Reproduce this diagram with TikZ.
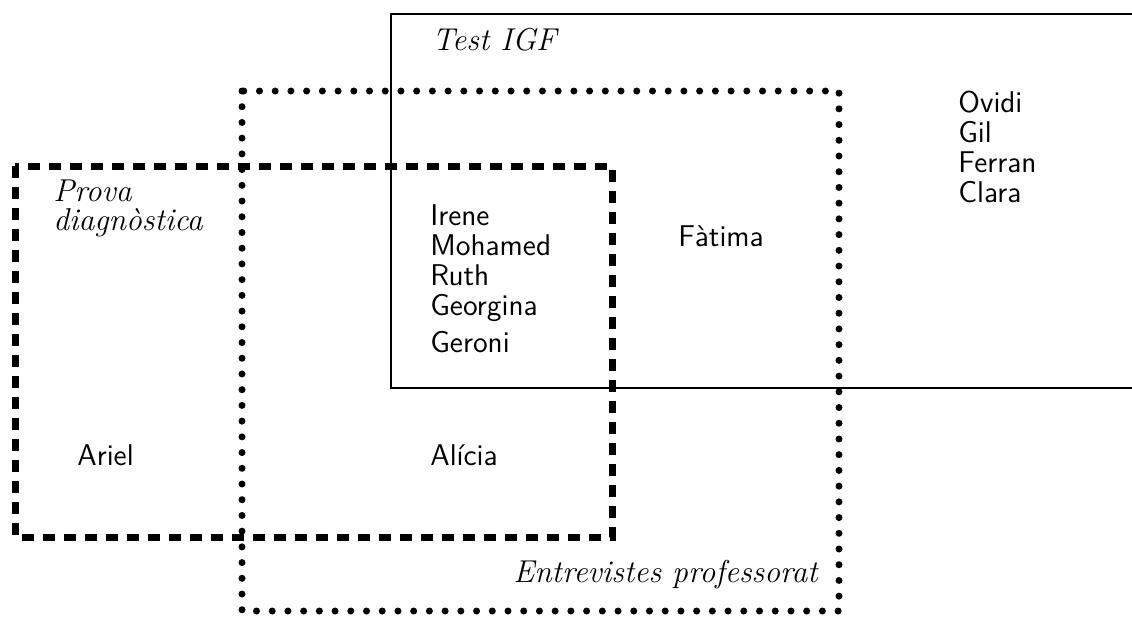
\documentclass[tikz,border=0pt]{standalone}
\usepackage{fontspec}
\begin{document}
\begin{tikzpicture}[x=0.5pt,y=-0.5pt,
  setlabel/.style={font=\fontsize{15.8}{14.2}\selectfont\itshape, anchor=base west, inner sep=0pt, align=left},
  member/.style={font=\fontsize{15}{14.9}\selectfont\sffamily, anchor=base west, inner sep=0pt, align=left},
  solidset/.style={line width=1pt},
  dottedset/.style={line width=3.5pt, line cap=round, dash pattern=on 0pt off 7.86pt},
  dashedset/.style={line width=3.5pt, dash pattern=on 6.2pt off 4.3pt}]
\clip (0,0) rectangle (1132,617);

% the three sets
\draw[solidset] (1140,14) -- (391,14) -- (391,388) -- (1140,388);
\draw[dottedset] (242,91) rectangle (839,611);
\draw[dashedset] (15,166) rectangle (612,537);

% set labels (multi-line nodes sit on the baseline of their last line)
\node[setlabel] (testigf) at (432,50) {Test IGF};
\node[setlabel] (prova) at (53,230) {Prova\\diagnòstica};
\node[setlabel] (entrevistes) at (513,582) {Entrevistes professorat};

% members
\node[member] (ovidi) at (958,202) {Ovidi\\Gil\\Ferran\\Clara};
\node[member] (irene) at (430,352) {Irene\\Mohamed\\Ruth\\Georgina\\[3.6pt]Geroni};
\node[member] (fatima) at (678,246) {Fàtima};
\node[member] (ariel) at (77,465) {Ariel};
\node[member] (alicia) at (430,465) {Alícia};
\end{tikzpicture}
\end{document}
